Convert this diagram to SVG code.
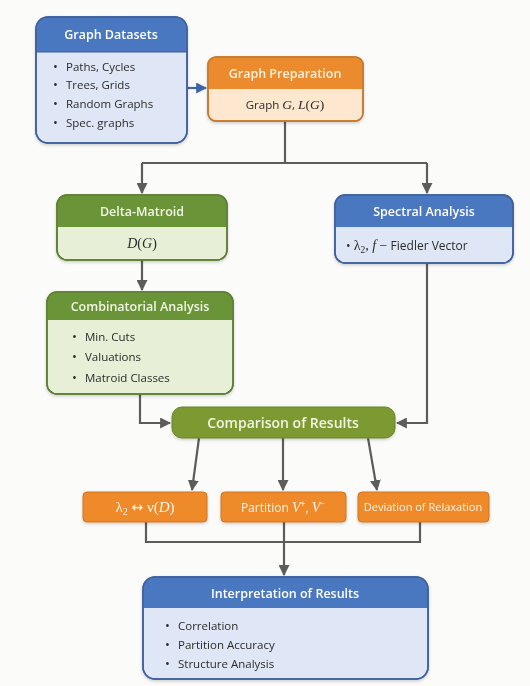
<svg xmlns="http://www.w3.org/2000/svg" width="530" height="686" viewBox="0 0 530 686">
<defs>
<style>
text{font-family:"Open Sans","Noto Sans","Liberation Sans",sans-serif}
.hd{font-size:12.5px;font-weight:600;fill:#ffffff;text-anchor:middle}
.hdo{font-size:12.5px;font-weight:600;fill:#fdf1dc;text-anchor:middle}
.hdg{font-size:12.5px;font-weight:600;fill:#f2f6e4;text-anchor:middle}
.it{font-size:11.5px;fill:#2b2b2b}
.bu{font-size:13px;fill:#2b2b2b}
.m{font-family:"Liberation Serif","DejaVu Serif",serif;font-style:italic}
.cn{fill:none;stroke:#5c5c5c;stroke-width:2.2}
.bb{fill:#dfe6f5;stroke:#3d5f9e;stroke-width:1.5}
.bh{fill:#4a77c0}
.ob{fill:#fde8cf;stroke:#c9772c;stroke-width:1.5}
.oh{fill:#ec8a2d}
.gb{fill:#e7efd6;stroke:#5d7d33;stroke-width:1.5}
.gh{fill:#6b9438}
.or{fill:#ee8a2c;stroke:#cf7424;stroke-width:1}
.ot{fill:#fff4e6;text-anchor:middle}
</style>
<marker id="ah" viewBox="0 0 10 10" refX="9" refY="5" markerWidth="5" markerHeight="5" orient="auto" markerUnits="strokeWidth"><path d="M0,0 L10,5 L0,10 Z" fill="#5c5c5c"/></marker>
<marker id="ahb" viewBox="0 0 10 10" refX="9" refY="5" markerWidth="5" markerHeight="5" orient="auto" markerUnits="strokeWidth"><path d="M0,0 L10,5 L0,10 Z" fill="#3d65a8"/></marker>
<filter id="sh" x="-10%" y="-10%" width="120%" height="130%"><feDropShadow dx="0" dy="1.5" stdDeviation="1.5" flood-color="#000" flood-opacity="0.18"/></filter>
</defs>
<rect width="530" height="686" fill="#fbfbfa"/>

<g id="connectors">
<path class="cn" d="M187,88 H206" style="stroke:#3d65a8" marker-end="url(#ahb)"/>
<path class="cn" d="M285,121 V163"/>
<path class="cn" d="M142,163 H427"/>
<path class="cn" d="M142,163 V193" marker-end="url(#ah)"/>
<path class="cn" d="M427,163 V193" marker-end="url(#ah)"/>
<path class="cn" d="M142,260 V290" marker-end="url(#ah)"/>
<path class="cn" d="M427,263 V423 H397" marker-end="url(#ah)"/>
<path class="cn" d="M140,394 V423 H170" marker-end="url(#ah)"/>
<path class="cn" d="M199,438 L192,490" marker-end="url(#ah)"/>
<path class="cn" d="M283,438 V490" marker-end="url(#ah)"/>
<path class="cn" d="M368,438 L377,490" marker-end="url(#ah)"/>
<path class="cn" d="M146,522 V542 H420 V522"/>
<path class="cn" d="M284,522 V575" marker-end="url(#ah)"/>
</g>

<g id="graph-datasets" filter="url(#sh)">
<rect class="bb" x="36" y="17" width="151" height="126" rx="12"/>
<path class="bh" d="M36,52 V29 Q36,17 48,17 H175 Q187,17 187,29 V52 Z"/>
<line x1="36" y1="52" x2="187" y2="52" stroke="#3d5f9e" stroke-width="1"/>
<rect x="36" y="17" width="151" height="126" rx="12" fill="none" stroke="#3d5f9e" stroke-width="1.5"/>
<text class="hd" x="111" y="39">Graph Datasets</text>
<text class="bu" x="53" y="71">•</text><text class="it" x="66" y="71">Paths, Cycles</text>
<text class="bu" x="53" y="89">•</text><text class="it" x="66" y="89">Trees, Grids</text>
<text class="bu" x="53" y="108">•</text><text class="it" x="66" y="108">Random Graphs</text>
<text class="bu" x="53" y="127">•</text><text class="it" x="66" y="127">Spec. graphs</text>
</g>

<g id="graph-preparation" filter="url(#sh)">
<rect class="ob" x="208" y="57" width="155" height="64" rx="8"/>
<path class="oh" d="M208,89 V65 Q208,57 216,57 H355 Q363,57 363,65 V89 Z"/>
<rect x="208" y="57" width="155" height="64" rx="8" fill="none" stroke="#c9772c" stroke-width="1.5"/>
<text class="hdo" x="285" y="78">Graph Preparation</text>
<text class="it" x="285" y="109" text-anchor="middle">Graph <tspan class="m" style="font-size:13.5px">G</tspan>, <tspan class="m" style="font-size:13.5px">L</tspan><tspan style="font-family:'Liberation Serif',serif;font-size:13.5px">(</tspan><tspan class="m" style="font-size:13.5px">G</tspan><tspan style="font-family:'Liberation Serif',serif;font-size:13.5px">)</tspan></text>
</g>

<g id="delta-matroid" filter="url(#sh)">
<rect class="gb" x="57" y="195" width="170" height="65" rx="10"/>
<path class="gh" d="M57,227 V205 Q57,195 67,195 H217 Q227,195 227,205 V227 Z"/>
<rect x="57" y="195" width="170" height="65" rx="10" fill="none" stroke="#5d7d33" stroke-width="1.5"/>
<text class="hdg" x="142" y="216">Delta-Matroid</text>
<text x="142" y="248" text-anchor="middle" style="font-size:14px;font-family:'Liberation Serif',serif" fill="#2b2b2b"><tspan class="m">D</tspan>(<tspan class="m">G</tspan>)</text>
</g>

<g id="spectral-analysis" filter="url(#sh)">
<rect class="bb" x="335" y="195" width="178" height="68" rx="10"/>
<path class="bh" d="M335,227 V205 Q335,195 345,195 H503 Q513,195 513,205 V227 Z"/>
<rect x="335" y="195" width="178" height="68" rx="10" fill="none" stroke="#3d5f9e" stroke-width="1.5"/>
<text class="hd" x="424" y="216">Spectral Analysis</text>
<text class="it" x="346" y="250" style="font-size:12px">• <tspan style="font-family:'Liberation Serif',serif;font-size:14px">λ<tspan style="font-size:9.5px" dy="3">2</tspan><tspan dy="-3">, </tspan><tspan class="m">f</tspan> −</tspan> Fiedler Vector</text>
</g>

<g id="combinatorial-analysis" filter="url(#sh)">
<rect class="gb" x="47" y="292" width="186" height="102" rx="10"/>
<path class="gh" d="M47,320 V302 Q47,292 57,292 H223 Q233,292 233,302 V320 Z"/>
<rect x="47" y="292" width="186" height="102" rx="10" fill="none" stroke="#5d7d33" stroke-width="1.5"/>
<text class="hdg" x="140" y="311">Combinatorial Analysis</text>
<text class="bu" x="72" y="341">•</text><text class="it" x="85" y="341">Min. Cuts</text>
<text class="bu" x="72" y="361">•</text><text class="it" x="85" y="361">Valuations</text>
<text class="bu" x="72" y="382">•</text><text class="it" x="85" y="382">Matroid Classes</text>
</g>

<g id="comparison-of-results" filter="url(#sh)">
<rect x="172" y="407" width="223" height="31" rx="10" fill="#7d9a30" stroke="#6a8428" stroke-width="1"/>
<text x="283" y="428" text-anchor="middle" style="font-size:14px;font-weight:600" fill="#f2f5e2">Comparison of Results</text>
</g>

<g id="lambda-nu" filter="url(#sh)">
<rect class="or" x="83" y="492" width="124" height="30" rx="4"/>
<text class="ot" x="145" y="512" style="font-family:'Liberation Serif',serif;font-size:15px">λ<tspan style="font-size:10px" dy="3">2</tspan><tspan dy="-3"> </tspan><tspan style="font-family:'DejaVu Sans',sans-serif;font-size:14px">↔</tspan> ν(<tspan class="m">D</tspan>)</text>
</g>

<g id="partition" filter="url(#sh)">
<rect class="or" x="221" y="492" width="125" height="30" rx="4"/>
<text class="ot" x="283" y="512" style="font-size:12px">Partition <tspan class="m" style="font-size:14px">V</tspan><tspan style="font-size:8.5px" dy="-5">+</tspan><tspan dy="5">, </tspan><tspan class="m" style="font-size:14px">V</tspan><tspan style="font-size:8.5px" dy="-5">−</tspan></text>
</g>

<g id="deviation" filter="url(#sh)">
<rect class="or" x="358" y="492" width="131" height="30" rx="4"/>
<text class="ot" x="423" y="511" style="font-size:11px">Deviation of Relaxation</text>
</g>

<g id="interpretation-of-results" filter="url(#sh)">
<rect class="bb" x="143" y="577" width="285" height="102" rx="12"/>
<path class="bh" d="M143,608 V589 Q143,577 155,577 H416 Q428,577 428,589 V608 Z"/>
<rect x="143" y="577" width="285" height="102" rx="12" fill="none" stroke="#3d5f9e" stroke-width="1.5"/>
<text class="hd" x="285" y="598">Interpretation of Results</text>
<text class="bu" x="165" y="630">•</text><text class="it" x="178" y="630">Correlation</text>
<text class="bu" x="165" y="649">•</text><text class="it" x="178" y="649">Partition Accuracy</text>
<text class="bu" x="165" y="668">•</text><text class="it" x="178" y="668">Structure Analysis</text>
</g>
</svg>
